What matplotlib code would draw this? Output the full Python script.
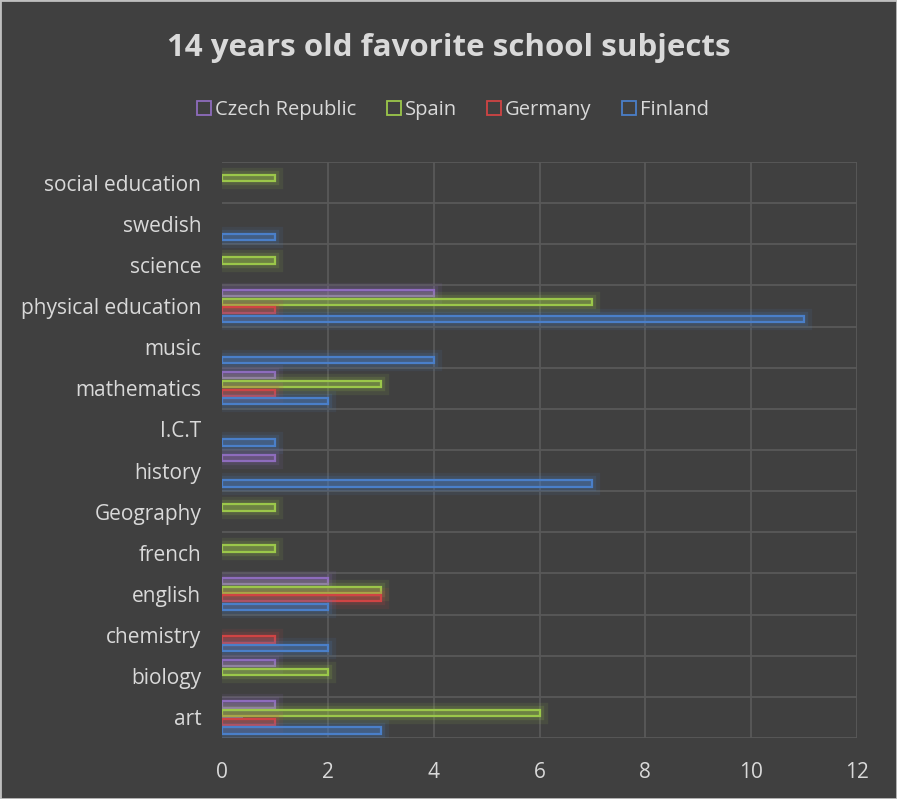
import numpy as np
import matplotlib
matplotlib.use("Agg")
import matplotlib.pyplot as plt
import matplotlib.patheffects as pe

# subjects, bottom to top as drawn
subjects = ["art", "biology", "chemistry", "english", "french", "Geography",
            "history", "I.C.T", "mathematics", "music", "physical education",
            "science", "swedish", "social education"]

czech = [1, 1, 0, 2, 0, 0, 1, 0, 1, 0, 4, 0, 0, 0]
spain = [6, 2, 0, 3, 1, 1, 0, 0, 3, 0, 7, 1, 0, 1]
germany = [1, 0, 1, 3, 0, 0, 0, 0, 1, 0, 1, 0, 0, 0]
finland = [3, 0, 2, 2, 0, 0, 7, 1, 2, 4, 11, 0, 1, 0]

series_names = ["Czech Republic", "Spain", "Germany", "Finland"]
series_values = [czech, spain, germany, finland]
colors = ["#8e6cbd", "#9bc74a", "#d04444", "#4a7fc9"]

BG = "#404040"
GRID = "#595959"
TEXT = "#d9d9d9"

fig = plt.figure(figsize=(8.97, 7.99), dpi=100, facecolor=BG)
ax = fig.add_axes([0.2475, 0.0763, 0.708, 0.7209])
ax.set_facecolor(BG)

y = np.arange(len(subjects))
step = 0.21
offsets = [1.5 * step, 0.5 * step, -0.5 * step, -1.5 * step]

for name, vals, col, off in zip(series_names, series_values, colors, offsets):
    vals = np.array(vals)
    mask = vals > 0
    bars = ax.barh(y[mask] + off, vals[mask], height=0.15,
                   facecolor=col + "22", edgecolor=col, linewidth=1.6,
                   zorder=3)
    for b in bars:
        b.set_path_effects([
            pe.Stroke(linewidth=11, foreground=col, alpha=0.10),
            pe.Stroke(linewidth=6, foreground=col, alpha=0.16),
            pe.Normal()])
    # legend handle
    ax.bar([0], [0], facecolor="none", edgecolor=col, linewidth=1.3, label=name)

ax.set_xlim(0, 12)
ax.set_ylim(-0.5, len(subjects) - 0.5)
ax.set_xticks(range(0, 13, 2))
ax.set_yticks(y)
ax.set_yticklabels(subjects)

# grid: vertical at ticks, horizontal at category boundaries
for xv in range(2, 13, 2):
    ax.axvline(xv, color=GRID, linewidth=1.3, zorder=1)
for yv in np.arange(-0.5, len(subjects), 1.0):
    ax.axhline(yv, color=GRID, linewidth=1.3, zorder=1)

for s in ax.spines.values():
    s.set_visible(False)
ax.tick_params(length=0, colors=TEXT, labelsize=15)
ax.tick_params(axis="y", pad=15)
ax.tick_params(axis="x", pad=17)
for lbl in ax.get_xticklabels() + ax.get_yticklabels():
    lbl.set_fontfamily("Open Sans")
    lbl.set_color(TEXT)

fig.text(0.5, 0.94, "14 years old favorite school subjects", ha="center",
         va="center", color=TEXT, fontsize=22.5, fontweight="bold",
         fontfamily="Open Sans")

leg = fig.legend(loc="center", bbox_to_anchor=(0.505, 0.862), ncol=4,
                 frameon=False, handlelength=0.7, handleheight=0.7,
                 handletextpad=0.2, columnspacing=1.5,
                 prop={"family": "Open Sans", "size": 14.5})
for t in leg.get_texts():
    t.set_color(TEXT)

# light border around the chart
fig.patches.append(plt.Rectangle((0, 0), 1, 1, transform=fig.transFigure,
                                 fill=False, edgecolor="#bfbfbf", linewidth=2))

fig.savefig("out.png", dpi=100, facecolor=BG)
